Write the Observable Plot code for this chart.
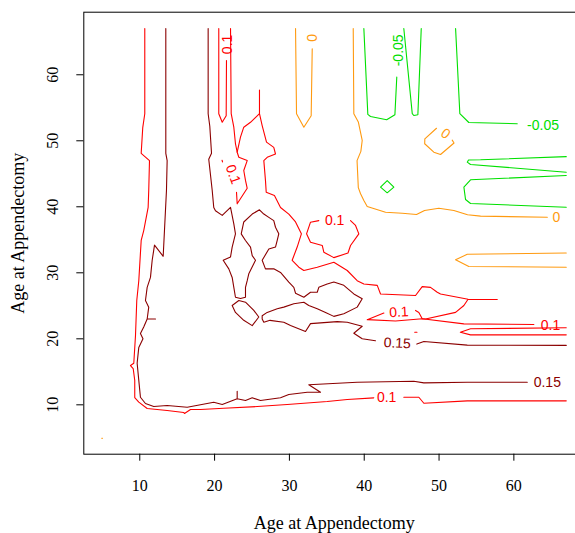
<!DOCTYPE html>
<html><head><meta charset="utf-8">
<script src="https://cdn.jsdelivr.net/npm/d3@7"></script>
<script src="https://cdn.jsdelivr.net/npm/@observablehq/plot@0.6"></script>
<style>html,body{margin:0;padding:0;background:#fff;overflow:hidden;width:575px;height:533px}</style>
</head><body><div id="chart"></div>
<script>
// ---- axes ----
const xTicks = [10, 20, 30, 40, 50, 60];
const yTicks = [10, 20, 30, 40, 50, 60];
const xDomain = [2.52, 69.48];
const yDomain = [2.52, 69.48];
const xTitle = "Age at Appendectomy";
const yTitle = "Age at Appendectomy";
const levels = ["0.15", "0.1", "0", "-0.05"];

// ---- contour lines, level 0.15 ----
const l015_left = [[13.48,67],[13.48,48.1],[13.66,47.0],[13.57,42.5],[13.13,32.5],[11.97,34.2],[11.66,31.9],[11.43,29.3],[10.99,27.8],[10.76,25.8],[11.20,24.8],[10.99,23.0],[12.10,23.0],[10.99,23.0],[10.53,21.8],[10.09,20.8],[10.43,20.0],[9.87,18.7],[9.65,16.3],[9.87,13.7],[10.09,11.15],[10.76,10.2],[11.87,9.74],[13.66,9.89],[16.34,9.64],[19.89,10.39],[21.02,10.05],[23.02,10.91],[23.02,12.06],[23.02,10.91],[24.13,10.65],[25.03,11.06],[26.14,10.65],[28.81,11.06],[29.92,11.56],[32.38,11.91],[34.16,11.91],[32.59,13.03],[39.06,13.42],[46.63,13.58],[47.97,13.33],[53.77,13.42],[61.79,13.42]];
const l015_mid = [[19.14,67],[19.14,54.1],[19.36,52.2],[19.59,48.1],[19.22,47.2],[19.68,42.5],[19.89,39.9],[20.12,39.4],[21.02,38.7],[22.13,39.9],[22.57,37.4],[22.79,35.9],[22.35,33.9],[22.13,32.4],[21.15,31.9],[21.90,30.6],[22.35,29.3],[22.57,27.8],[22.79,26.3],[23.46,26.1],[24.13,26.3],[24.13,27.8],[24.36,28.8],[24.57,29.85],[25.47,31.9],[25.03,32.6],[24.80,33.9],[24.13,34.9],[23.56,35.9],[23.90,37.7],[25.03,38.9],[26.00,39.55],[26.58,38.9],[27.25,38.4],[27.91,37.9],[28.14,36.9],[28.58,35.9],[28.37,34.9],[28.14,33.9],[27.25,33.6],[26.36,31.9],[26.80,30.6],[27.91,30.6],[28.81,30.05],[29.92,28.6],[30.59,27.8],[30.82,26.9],[31.93,26.3],[32.82,27.06],[33.72,27.06],[33.93,27.8],[35.05,28.3],[35.94,28.6],[37.27,28.1],[38.61,26.8],[39.73,26.06],[39.06,24.8],[37.27,23.8],[35.94,23.4],[34.83,24.0],[33.72,24.55],[32.59,25.05],[31.93,25.55],[30.59,25.3],[29.25,24.8],[28.37,24.55],[27.03,24.0],[26.36,23.5],[26.36,23.0],[26.58,22.5],[27.41,22.8],[29.25,22.5],[30.15,22.0],[32.15,21.1],[32.82,22.3],[36.39,22.6],[37.73,22.5],[39.73,21.9],[38.61,20.85],[39.73,20.0],[41.5,19.7]];
const l015_mid_end = [[47.03,19.2],[47.97,19.6],[53.77,19.05],[67,19.0]];
const l015_loop = [[22.35,25.05],[23.24,25.8],[24.13,25.55],[25.24,24.3],[25.91,23.3],[25.03,22.0],[23.90,22.8],[22.79,24.0],[22.35,25.05]];

// ---- level 0.1 ----
const l01_outer = [[10.67,67],[10.67,54.1],[10.40,52.0],[10.19,48.1],[11.30,47.0],[11.20,42.5],[11.12,39.9],[10.53,36.4],[10.19,34.9],[9.87,28.8],[9.60,25.8],[9.43,20.5],[9.20,16.3],[8.76,15.95],[9.12,15.5],[9.33,13.7],[9.33,11.1],[9.87,10.4],[10.99,9.44],[13.66,9.14],[15.88,8.83],[15.98,8.68],[16.78,9.29],[18.11,9.29],[21.23,9.48],[25.70,9.74],[29.71,10.05],[35.05,10.5],[37.73,10.8],[41.28,11.06]];
const l01_outer_end = [[45.29,11.15],[47.30,11.15],[47.97,10.24],[53.77,10.6],[67,10.6]];
const l01_u = [[20.56,67],[20.56,54.1],[21.02,52.8],[21.55,53.8],[21.59,62.17]];
const l01_down = [[22.13,67],[22.22,54.1],[22.57,52.06],[22.79,49.55],[23.02,48.27],[23.24,47.5],[24.36,47.0],[23.90,45.5],[24.13,44.0],[24.36,42.8],[23.02,40.45],[22.93,42.2]];
const l01_dash = [[21.0,47.05],[21.06,46.8]];
const l01_inner = [[23.02,48.27],[23.46,50.55],[23.90,52.06],[24.80,52.8],[26.00,54.1],[26.00,57.7],[26.00,54.1],[26.36,52.3],[26.94,49.8],[27.91,49.0],[28.14,48.0],[27.03,47.5],[26.58,47.0],[26.80,44.0],[26.9,42.2],[28.0,41.7],[28.81,39.9],[29.92,38.9],[30.82,37.7],[31.6,35.9],[31.04,33.9],[30.37,31.9],[31.26,30.85],[31.93,30.35],[33.72,30.85],[35.94,31.6],[37.73,30.35],[39.06,28.8],[39.95,28.3],[41.74,28.1],[42.18,26.8],[46.86,26.56],[47.75,27.9],[48.86,27.8],[49.76,27.06],[50.20,26.8],[53.88,26.0],[57.78,25.95],[53.88,26.0],[53.32,25.05],[52.21,24.0],[48.20,23.0],[47.75,23.03],[44.18,22.7],[40.40,22.9],[42.62,23.9]];
const l01_inner_end = [[46.86,24.3],[47.30,24.0],[47.75,23.03],[53.32,22.27],[62.67,22.17]];
const l01_wedge = [[67,21.67],[54.21,21.52],[52.85,21.0],[54.21,20.6],[67,20.6]];
const l01_tick = [[46.75,21.0],[47.05,21.0]];
const l01_loop = [[38.17,37.9],[38.84,37.17],[39.28,35.9],[38.17,34.14],[37.83,33.0],[35.94,32.3],[34.60,33.12],[34.39,34.14],[32.82,34.64],[32.29,35.9],[32.82,37.67],[33.93,37.9]];

// ---- level 0 ----
const l0_u = [[30.82,67],[30.95,54.1],[31.93,52.06],[32.91,53.8],[33.05,63.94]];
const l0_bend = [[38.53,67],[38.61,54.1],[39.21,52.85],[39.73,50.05],[39.55,48.4],[39.04,47.0],[39.21,42.9],[39.51,41.97],[39.95,40.95],[40.40,40.05],[42.85,39.18],[45.08,39.03],[46.99,38.83],[48.06,39.44],[49.97,39.79],[51.98,39.44],[53.81,38.79],[55.55,38.58],[64.47,38.42]];
const l0_loop = [[51.76,50.1],[52.0,49.67],[50.20,47.92],[49.30,48.27],[48.08,49.55],[48.10,50.3],[49.66,51.9]];
const l0_wedge = [[67,33.0],[53.77,32.8],[52.21,31.97],[53.98,30.95],[67,30.85]];
const l0_dot = [[4.92,4.94],[5.02,4.94]];

// ---- level -0.05 ----
const lm05_u1 = [[39.95,67],[40.48,54.0],[40.84,53.68],[43.0,53.18],[44.1,53.95],[44.35,59.64]];
const lm05_u2 = [[45.29,67],[46.42,54.1],[46.63,53.83],[47.17,53.95],[47.62,67]];
const lm05_corner = [[52.21,67],[52.78,54.1],[53.98,52.77],[60.45,52.58]];
const lm05_wedge = [[67,47.6],[55.55,47.12],[53.94,47.1],[53.77,46.76],[54.21,46.41],[67,45.24]];
const lm05_bracket = [[67,44.74],[54.21,44.09],[53.32,42.97],[53.54,41.1],[54.21,40.5],[67,39.94]];
const lm05_diamond = [[43.07,43.98],[43.96,42.97],[43.07,42.12],[42.18,42.97],[43.07,43.98]];

// ---- contour labels: text, x, y, angle, level ----
const contourLabels = [
  ["0.1", 43.0, 11.06, 0, "0.1"],
  ["0.15", 64.47, 13.4, 0, "0.15"],
  ["0.15", 44.41, 19.33, 3, "0.15"],
  ["0.1", 21.68, 64.6, -90, "0.1"],
  ["0.1", 22.46, 44.9, 70, "0.1"],
  ["0.1", 44.63, 24.03, -3, "0.1"],
  ["0.1", 64.9, 22.05, 0, "0.1"],
  ["0.1", 36.05, 37.9, 0, "0.1"],
  ["0", 33.05, 65.6, -90, "0"],
  ["0", 65.67, 38.42, 0, "0"],
  ["0", 50.87, 51.06, 37, "0"],
  ["-0.05", 44.63, 63.7, -90, "-0.05"],
  ["-0.05", 63.9, 52.3, 0, "-0.05"]
];

const lines = [
  ["0.15", l015_left], ["0.15", l015_mid], ["0.15", l015_mid_end], ["0.15", l015_loop],
  ["0.1", l01_outer], ["0.1", l01_outer_end], ["0.1", l01_u], ["0.1", l01_down], ["0.1", l01_dash],
  ["0.1", l01_inner], ["0.1", l01_inner_end], ["0.1", l01_wedge], ["0.1", l01_tick], ["0.1", l01_loop],
  ["0", l0_u], ["0", l0_bend], ["0", l0_loop], ["0", l0_wedge], ["0", l0_dot],
  ["-0.05", lm05_u1], ["-0.05", lm05_u2], ["-0.05", lm05_corner], ["-0.05", lm05_wedge], ["-0.05", lm05_bracket], ["-0.05", lm05_diamond]
];

const colorRange = ["#8b0000", "#ff0000", "#ff9a10", "#00e000"];
const serif = "Liberation Serif, Times New Roman, serif";
const sans = "Liberation Sans, Arial, sans-serif";
const W = 575, H = 533;
const mL = 83.3, mT = 11.7, mB = 79.3, mR = -9.3;

const lineMarks = lines.map(([lvl, pts]) => Plot.line(pts, {
  x: d => d[0], y: d => d[1], stroke: () => lvl, strokeWidth: 1.1
}));

const xMid = (xDomain[0] + xDomain[1]) / 2;
const yMid = (yDomain[0] + yDomain[1]) / 2;

const chart = Plot.plot({
  width: W, height: H,
  marginLeft: mL, marginTop: mT, marginBottom: mB, marginRight: mR,
  style: {background: "#fff", overflow: "hidden"},
  x: {domain: xDomain, range: [mL, W - mR]},
  y: {domain: yDomain, range: [H - mB, mT]},
  color: {domain: levels, range: colorRange},
  marks: [
    ...lineMarks,
    Plot.text(contourLabels, {
      x: d => d[1], y: d => d[2], text: d => d[0], rotate: d => d[3],
      fill: d => d[4], fontSize: 14, fontFamily: sans
    }),
    Plot.frame({stroke: "#000", strokeWidth: 1}),
    Plot.axisX(xTicks, {tickSize: 7, tickFormat: () => "", label: null, stroke: "#000"}),
    Plot.axisY(yTicks, {tickSize: 7, tickFormat: () => "", label: null, stroke: "#000"}),
    Plot.text(xTicks, {x: d => d, text: d => String(d), frameAnchor: "bottom", textAnchor: "middle", lineAnchor: "middle", dy: 32, fontSize: 16, fontFamily: serif, fill: "#000"}),
    Plot.text(yTicks, {y: d => d, text: d => String(d), frameAnchor: "left", textAnchor: "middle", lineAnchor: "middle", dx: -31, rotate: -90, fontSize: 16, fontFamily: serif, fill: "#000"}),
    Plot.text([xTitle], {x: xMid, text: d => d, frameAnchor: "bottom", textAnchor: "middle", lineAnchor: "middle", dy: 69, fontSize: 18, fontFamily: serif, fill: "#000"}),
    Plot.text([yTitle], {y: yMid, text: d => d, frameAnchor: "left", textAnchor: "middle", lineAnchor: "middle", dx: -66, rotate: -90, fontSize: 18, fontFamily: serif, fill: "#000"})
  ]
});
document.getElementById("chart").appendChild(chart);
</script>
</body></html>
